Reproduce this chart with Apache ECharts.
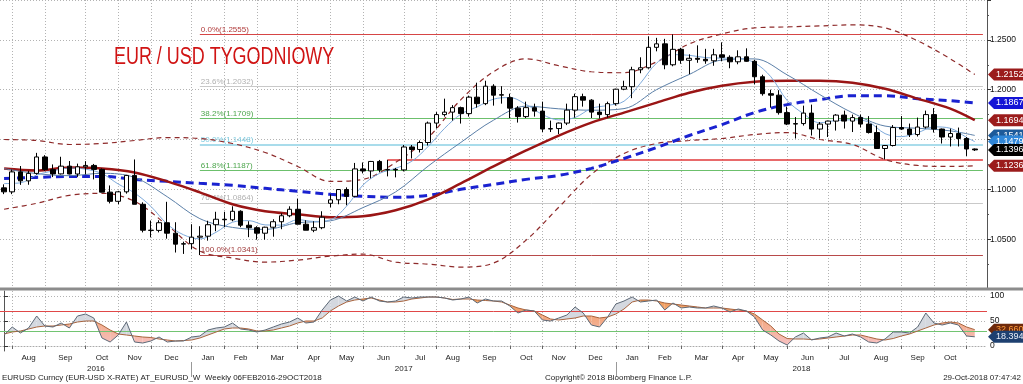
<!DOCTYPE html>
<html><head><meta charset="utf-8">
<script src="https://cdn.jsdelivr.net/npm/echarts@6/dist/echarts.min.js"></script>
<style>html,body{margin:0;padding:0;background:#fff}#c{width:1023px;height:384px}</style>
</head><body><div id="c"></div>
<script>
// ---------- DATA ----------
const weeks = [
'2016-07-22','2016-07-29','2016-08-05','2016-08-12','2016-08-19','2016-08-26','2016-09-02','2016-09-09','2016-09-16','2016-09-23','2016-09-30','2016-10-07','2016-10-14','2016-10-21','2016-10-28','2016-11-04','2016-11-11','2016-11-18','2016-11-25','2016-12-02','2016-12-09','2016-12-16','2016-12-23','2016-12-30',
'2017-01-06','2017-01-13','2017-01-20','2017-01-27','2017-02-03','2017-02-10','2017-02-17','2017-02-24','2017-03-03','2017-03-10','2017-03-17','2017-03-24','2017-03-31','2017-04-07','2017-04-14','2017-04-21','2017-04-28','2017-05-05','2017-05-12','2017-05-19','2017-05-26','2017-06-02','2017-06-09','2017-06-16','2017-06-23','2017-06-30','2017-07-07','2017-07-14','2017-07-21','2017-07-28','2017-08-04','2017-08-11','2017-08-18','2017-08-25','2017-09-01','2017-09-08','2017-09-15','2017-09-22','2017-09-29','2017-10-06','2017-10-13','2017-10-20','2017-10-27','2017-11-03','2017-11-10','2017-11-17','2017-11-24','2017-12-01','2017-12-08','2017-12-15','2017-12-22','2017-12-29',
'2018-01-05','2018-01-12','2018-01-19','2018-01-26','2018-02-02','2018-02-09','2018-02-16','2018-02-23','2018-03-02','2018-03-09','2018-03-16','2018-03-23','2018-03-30','2018-04-06','2018-04-13','2018-04-20','2018-04-27','2018-05-04','2018-05-11','2018-05-18','2018-05-25','2018-06-01','2018-06-08','2018-06-15','2018-06-22','2018-06-29','2018-07-06','2018-07-13','2018-07-20','2018-07-27','2018-08-03','2018-08-10','2018-08-17','2018-08-24','2018-08-31','2018-09-07','2018-09-14','2018-09-21','2018-09-28','2018-10-05','2018-10-12','2018-10-19','2018-10-26','2018-11-02','2018-11-09'];

const open = [1.1015,1.0975,1.1175,1.1085,1.1160,1.1325,1.1198,1.1155,1.1233,1.1154,
1.1226,1.1240,1.1200,1.0972,1.0880,1.0975,1.1140,1.0850,1.0590,1.0588,
1.0665,1.0560,1.0450,1.0455,1.0520,1.0530,1.0645,1.0700,1.0695,1.0780,
1.0640,1.0615,1.0560,1.0620,1.0675,1.0735,1.0800,1.0650,1.0590,1.0615,
1.0860,1.0895,1.0998,1.0930,1.1205,1.1185,1.1280,1.1195,1.1200,1.1195,
1.1425,1.1400,1.1470,1.1665,1.1750,1.1775,1.1820,1.1760,1.1925,1.1860,
1.2035,1.1945,1.1920,1.1815,1.1730,1.1820,1.1785,1.1605,1.1610,1.1665,
1.1795,1.1930,1.1895,1.1775,1.1750,1.1860,1.2005,1.2030,1.2200,1.2220,
1.2425,1.2460,1.2250,1.2405,1.2295,1.2315,1.2305,1.2290,1.2350,1.2325,
1.2280,1.2330,1.2285,1.2130,1.1960,1.1945,1.1770,1.1655,1.1660,1.1765,
1.1605,1.1655,1.1685,1.1745,1.1685,1.1720,1.1655,1.1570,1.1410,1.1440,
1.1620,1.1605,1.1550,1.1625,1.1750,1.1605,1.1525,1.1560,1.1510,1.1405];
const high = [1.1050,1.1198,1.1234,1.1186,1.1366,1.1343,1.1250,1.1327,1.1284,1.1258,
1.1283,1.1255,1.1210,1.1039,1.0985,1.1145,1.1300,1.0870,1.0687,1.0690,
1.0875,1.0670,1.0475,1.0650,1.0630,1.0685,1.0775,1.0775,1.0830,1.0790,
1.0680,1.0630,1.0625,1.0700,1.0760,1.0830,1.0905,1.0690,1.0680,1.0780,
1.0950,1.1000,1.1020,1.1265,1.1270,1.1285,1.1295,1.1296,1.1215,1.1445,
1.1445,1.1490,1.1680,1.1775,1.1910,1.1845,1.1830,1.1940,1.2070,1.2090,
1.2055,1.2035,1.1960,1.1835,1.1880,1.1860,1.1880,1.1690,1.1670,1.1860,
1.1960,1.1960,1.1905,1.1860,1.1880,1.2010,1.2090,1.2230,1.2325,1.2535,
1.2520,1.2510,1.2555,1.2420,1.2355,1.2445,1.2410,1.2410,1.2475,1.2345,
1.2395,1.2415,1.2300,1.2150,1.2000,1.1995,1.1830,1.1725,1.1840,1.1850,
1.1675,1.1690,1.1755,1.1790,1.1750,1.1750,1.1735,1.1640,1.1445,1.1645,
1.1735,1.1660,1.1720,1.1790,1.1815,1.1610,1.1610,1.1620,1.1525,1.1410];
const low = [1.0952,1.0952,1.1045,1.1046,1.1147,1.1186,1.1123,1.1149,1.1150,1.1125,
1.1150,1.1100,1.0970,1.0859,1.0851,1.0957,1.0850,1.0568,1.0518,1.0568,
1.0505,1.0366,1.0352,1.0400,1.0341,1.0485,1.0580,1.0620,1.0680,1.0620,
1.0520,1.0495,1.0495,1.0525,1.0600,1.0720,1.0650,1.0590,1.0570,1.0600,
1.0820,1.0850,1.0840,1.0920,1.1160,1.1110,1.1170,1.1130,1.1120,1.1180,
1.1310,1.1370,1.1440,1.1610,1.1730,1.1690,1.1660,1.1730,1.1820,1.1845,
1.1840,1.1860,1.1715,1.1670,1.1715,1.1730,1.1575,1.1575,1.1555,1.1645,
1.1720,1.1830,1.1715,1.1710,1.1720,1.1840,1.1995,1.1915,1.2165,1.2210,
1.2385,1.2205,1.2235,1.2260,1.2155,1.2270,1.2260,1.2240,1.2285,1.2215,
1.2255,1.2280,1.2055,1.1940,1.1820,1.1750,1.1645,1.1510,1.1640,1.1540,
1.1510,1.1525,1.1590,1.1610,1.1575,1.1620,1.1560,1.1405,1.1300,1.1430,
1.1595,1.1525,1.1530,1.1610,1.1570,1.1460,1.1430,1.1430,1.1335,1.1385];
const close = [1.0975,1.1175,1.1085,1.1160,1.1325,1.1198,1.1155,1.1233,1.1154,1.1226,
1.1240,1.1200,1.0972,1.0880,1.0975,1.1140,1.0850,1.0590,1.0588,1.0665,
1.0560,1.0450,1.0455,1.0520,1.0530,1.0645,1.0700,1.0695,1.0780,1.0640,
1.0615,1.0560,1.0620,1.0675,1.0735,1.0800,1.0650,1.0590,1.0615,1.0720,
1.0895,1.0998,1.0930,1.1205,1.1185,1.1280,1.1195,1.1200,1.1195,1.1425,
1.1400,1.1470,1.1665,1.1750,1.1775,1.1820,1.1760,1.1925,1.1860,1.2035,
1.1945,1.1950,1.1815,1.1730,1.1820,1.1785,1.1605,1.1610,1.1665,1.1795,
1.1930,1.1895,1.1775,1.1750,1.1860,1.2005,1.2030,1.2200,1.2220,1.2425,
1.2460,1.2250,1.2405,1.2295,1.2315,1.2305,1.2290,1.2350,1.2325,1.2280,
1.2330,1.2285,1.2130,1.1960,1.1945,1.1770,1.1655,1.1660,1.1765,1.1605,
1.1655,1.1685,1.1745,1.1685,1.1720,1.1655,1.1570,1.1410,1.1440,1.1620,
1.1605,1.1550,1.1625,1.1750,1.1605,1.1525,1.1560,1.1510,1.1405,1.1396];

// study lines at sample weeks
const studyWeeks = ['2016-07-22','2016-08-19','2016-09-16','2016-10-14','2016-11-11','2016-12-09','2017-01-06','2017-02-03','2017-03-03','2017-03-31','2017-04-28','2017-05-26','2017-06-23','2017-07-21','2017-08-18','2017-09-15','2017-10-13','2017-11-10','2017-12-08','2018-01-05','2018-02-02','2018-03-02','2018-03-30','2018-04-27','2018-05-25','2018-06-22','2018-07-20','2018-08-17','2018-09-14','2018-10-12','2018-11-02'];
const maRed   = [1.121,1.119,1.122,1.121,1.117,1.108,1.097,1.085,1.078,1.075,1.072,1.073,1.079,1.090,1.106,1.123,1.139,1.154,1.167,1.177,1.187,1.197,1.204,1.208,1.209,1.209,1.207,1.201,1.191,1.181,1.1694];
const maBlue  = [1.111,1.112,1.113,1.113,1.110,1.108,1.106,1.104,1.101,1.098,1.095,1.093,1.092,1.094,1.100,1.105,1.110,1.114,1.121,1.131,1.142,1.154,1.165,1.177,1.185,1.190,1.194,1.194,1.191,1.189,1.1867];
const bandUp  = [1.150,1.149,1.145,1.146,1.149,1.152,1.151,1.146,1.137,1.123,1.108,1.110,1.127,1.152,1.190,1.218,1.231,1.224,1.218,1.217,1.228,1.246,1.256,1.262,1.263,1.264,1.265,1.262,1.249,1.231,1.2152];
const bandLow = [1.080,1.086,1.094,1.096,1.088,1.064,1.038,1.031,1.027,1.029,1.033,1.035,1.027,1.025,1.022,1.026,1.049,1.082,1.115,1.136,1.146,1.149,1.151,1.155,1.157,1.150,1.145,1.130,1.124,1.123,1.1236];
const maSlow  = [1.1208,1.1158,1.1137,1.1161,1.1119,1.0926,1.0706,1.0618,1.0598,1.0665,1.0684,1.0817,1.0974,1.1234,1.1471,1.1694,1.1835,1.1808,1.1794,1.1810,1.2001,1.2153,1.2298,1.2309,1.2149,1.1951,1.1768,1.1635,1.1613,1.1587,1.1541];
const fastWeeks = ['2016-07-22','2016-08-05','2016-08-19','2016-09-02','2016-09-16','2016-09-30','2016-10-14','2016-10-28','2016-11-11','2016-11-25','2016-12-09','2016-12-23','2017-01-06','2017-01-20','2017-02-03','2017-02-17','2017-03-03','2017-03-17','2017-03-31','2017-04-14','2017-04-28','2017-05-12','2017-05-26','2017-06-09','2017-06-23','2017-07-07','2017-07-21','2017-08-04','2017-08-18','2017-09-01','2017-09-15','2017-09-29','2017-10-13','2017-10-27','2017-11-10','2017-11-24','2017-12-08','2017-12-22','2018-01-05','2018-01-19','2018-02-02','2018-02-16','2018-03-02','2018-03-16','2018-03-30','2018-04-13','2018-04-27','2018-05-11','2018-05-25','2018-06-08','2018-06-22','2018-07-06','2018-07-20','2018-08-03','2018-08-17','2018-08-31','2018-09-14','2018-09-28','2018-10-12','2018-10-26','2018-11-02'];
const maFast = [1.1058,1.1065,1.1144,1.1185,1.1213,1.1202,1.1158,1.1053,1.0963,1.0829,
1.0651,1.0544,1.0503,1.0570,1.0670,1.0686,1.0643,1.0641,1.0696,1.0678,
1.0694,1.0832,1.1043,1.1159,1.1211,1.1283,1.1431,1.1612,1.1754,1.1828,
1.1905,1.1921,1.1852,1.1751,1.1697,1.1721,1.1812,1.1842,1.1884,1.2063,
1.2267,1.2352,1.2345,1.2322,1.2317,1.2315,1.2270,1.2130,1.1892,1.1759,
1.1668,1.1691,1.1698,1.1675,1.1559,1.1529,1.1568,1.1627,1.1613,1.1521,1.1479];

// Fibonacci retracement levels and support line
const fibLevels = [0, 23.6, 38.2, 50, 61.8, 76.4, 100];
const fibPrices = [1.2555, 1.2032, 1.1709, 1.1448, 1.1187, 1.0864, 1.0341];
const fibStart = '2017-01-06';
const supportStart = '2017-06-16';
const supportPrice = 1.1296;

// lower panel oscillator
const oscK = [22,38,26,36,60,40,38,46,36,60, 64,56,16,8,22,48,8,6,10,18,
8,10,10,18,20,32,36,38,46,34, 32,28,32,38,44,48,56,46,48,72,
92,100,90,98,90,98,90,88,90,98, 96,98,98,98,96,92,94,98,86,94,
90,90,80,66,72,70,52,50,56,62, 78,66,42,38,58,84,90,98,88,90,
92,72,86,76,78,76,76,80,76,68, 74,70,58,32,22,10,2,18,26,12,
16,18,26,20,24,18,8,6,14,28, 28,26,38,66,46,42,46,42,20,18.3949];
const oscD = [24,28,30,34,38,40,40,42,44,48, 50,50,42,32,24,22,20,18,17,14,
12,10,11,12,16,22,28,34,36,36, 34,30,30,32,36,40,46,50,50,56,
70,80,88,92,94,96,92,88,88,90, 94,96,98,98,96,93,94,94,92,91,
90,88,82,76,72,70,62,54,52,54, 56,60,60,56,58,64,74,88,92,92,
90,86,84,82,80,78,76,76,76,74, 72,70,64,52,40,24,15,14,14,13,
14,16,18,20,22,22,18,14,12,15, 20,24,30,36,42,46,48,46,38,32.6608];
const oscLevels = [70, 30];

const monthNames = ['Jan','Feb','Mar','Apr','May','Jun','Jul','Aug','Sep','Oct','Nov','Dec'];
const titleText = 'EUR / USD TYGODNIOWY';
const footLeft = 'EURUSD Curncy (EUR-USD X-RATE) AT_EURUSD_W  Weekly 06FEB2016-29OCT2018';
const footMid = 'Copyright\u00a9 2018 Bloomberg Finance L.P.';
const footRight = '29-Oct-2018 07:47:42';

// ---------- DERIVED (axis helpers) ----------
const FONT = 'Liberation Sans, Arial, sans-serif';
const monthEnds = [];
const yearEnds = [];
for (let i = 0; i < weeks.length - 1; i++) {
  if (weeks[i].slice(0, 7) !== weeks[i + 1].slice(0, 7)) monthEnds.push(i);
  if (weeks[i].slice(0, 4) !== weeks[i + 1].slice(0, 4)) yearEnds.push(i);
}
const monthEndSet = new Set(monthEnds);
const monthCenters = [], monthLabel = {};
for (let k = 0; k < monthEnds.length - 1; k++) {
  const c = (monthEnds[k] + monthEnds[k + 1]) / 2;
  monthCenters.push(c);
  monthLabel[c] = monthNames[+weeks[monthEnds[k + 1]].slice(5, 7) - 1];
}
const yb = [-0.5, ...yearEnds, weeks.length - 0.5];
const yearCenters = [], yearLabel = {};
for (let k = 0; k < yb.length - 1; k++) {
  const c = (yb[k] + yb[k + 1]) / 2;
  yearCenters.push(c);
  yearLabel[c] = weeks[Math.min(Math.floor(yb[k + 1]), weeks.length - 1)].slice(0, 4);
}
const pts = (d, v) => d.map((x, k) => [x, v[k]]);
const last = a => a[a.length - 1];
const candles = open.map((o, i) => [o, close[i], low[i], high[i]]);

const mainTags = [
  {v: last(bandUp), bg: '#9b1c1c', fg: '#fff'},
  {v: last(maBlue), bg: '#1414d6', fg: '#fff'},
  {v: last(maRed), bg: '#9b1c1c', fg: '#fff'},
  {v: last(maSlow), bg: '#1d5a9a', fg: '#fff'},
  {v: last(maFast), bg: '#2f86d8', fg: '#fff'},
  {v: last(close), bg: '#000', fg: '#fff'},
  {v: last(bandLow), bg: '#9b1c1c', fg: '#fff'}
];
const lowTags = [
  {v: last(oscD), bg: '#6e2a0c', fg: '#ff9c3c'},
  {v: last(oscK), bg: '#1e4070', fg: '#e8eef8'}
];
function tagRenderer(tags, digits) {
  return function (params, api) {
    const t = tags[params.dataIndex];
    const y = api.coord([0, api.value(1)])[1];
    const x0 = params.coordSys.x + params.coordSys.width + 1;
    return {type: 'group', children: [
      {type: 'polygon', shape: {points: [[x0, y], [x0 + 6, y - 6], [x0 + 37, y - 6], [x0 + 37, y + 6], [x0 + 6, y + 6]]}, style: {fill: t.bg}},
      {type: 'text', x: x0 + 8, y: y, style: {text: t.v.toFixed(digits), fill: t.fg, font: '9px Liberation Sans', verticalAlign: 'middle', align: 'left'}}
    ]};
  };
}

const fibColors = ['#d64545', '#c9c9c9', '#6cc06c', '#a9dceb', '#6cc06c', '#c9c9c9', '#b84a4a'];
const fibText = ['#b03a3a', '#b0b0b0', '#4da64d', '#7fcbe0', '#4da64d', '#b0b0b0', '#a03a3a'];
const fibLines = fibLevels.map((lv, k) => [
  {coord: [fibStart, fibPrices[k]], name: lv.toFixed(1) + '%(' + fibPrices[k].toFixed(4) + ')',
   lineStyle: {color: fibColors[k], width: k === 3 ? 2 : 1, type: 'solid'},
   label: {color: fibText[k]}},
  {coord: [last(weeks), fibPrices[k]]}
]);
fibLines.push([
  {coord: [supportStart, supportPrice], lineStyle: {color: '#e0393a', width: 1.5, type: 'solid'}, label: {show: false}},
  {coord: [last(weeks), supportPrice]}
]);

const dotted = {color: '#b3b3b3', type: [1, 2], width: 1};

const option = {
  animation: false,
  backgroundColor: '#fff',
  textStyle: {fontFamily: FONT},
  title: [
    {text: footLeft, left: 2, top: 374, padding: 0, textStyle: {color: '#222', fontSize: 8, fontWeight: 'normal', fontFamily: FONT}},
    {text: footMid, left: 545, top: 374, padding: 0, textStyle: {color: '#222', fontSize: 8, fontWeight: 'normal', fontFamily: FONT}},
    {text: footRight, right: 2, top: 374, padding: 0, textStyle: {color: '#222', fontSize: 8, fontWeight: 'normal', fontFamily: FONT}}
  ],
  graphic: [
    {type: 'rect', shape: {x: 0, y: 287.5, width: 1023, height: 3}, style: {fill: '#8c8c8c'}, z: 50},
    {type: 'text', x: 114, y: 46, scaleX: 0.78, z: 60,
     style: {text: titleText, fill: '#d01414', font: '23px Liberation Sans', verticalAlign: 'top', align: 'left'}}
  ],
  grid: [
    {left: -4, right: 36, top: -1, height: 290},
    {left: -4, right: 36, top: 291, height: 60}
  ],
  xAxis: [
    {type: 'category', gridIndex: 0, data: weeks, boundaryGap: true,
     axisLine: {show: false}, axisTick: {show: false}, axisLabel: {show: false},
     splitLine: {show: true, interval: (i) => monthEndSet.has(i), alignWithLabel: true, lineStyle: dotted}},
    {type: 'category', gridIndex: 1, data: weeks, boundaryGap: true, position: 'bottom',
     axisLine: {show: true, lineStyle: {color: '#aaa', type: [1, 2]}},
     axisTick: {show: true, interval: (i) => monthEndSet.has(i), alignWithLabel: true, length: 3, lineStyle: {color: '#666'}},
     axisLabel: {show: false},
     splitLine: {show: true, interval: (i) => monthEndSet.has(i), alignWithLabel: true, lineStyle: dotted}},
    {type: 'value', gridIndex: 1, position: 'bottom', min: -0.5, max: weeks.length - 0.5,
     axisLine: {show: false}, axisTick: {show: false}, splitLine: {show: false},
     axisLabel: {customValues: monthCenters, formatter: v => monthLabel[v] || '', fontSize: 8, color: '#222', margin: 3, fontFamily: FONT}},
    {type: 'value', gridIndex: 1, position: 'bottom', offset: 11, min: -0.5, max: weeks.length - 0.5,
     axisLine: {show: false}, splitLine: {show: false},
     axisTick: {show: true, customValues: yearEnds, length: 15, lineStyle: {color: '#999'}},
     axisLabel: {customValues: yearCenters, formatter: v => yearLabel[v] || '', fontSize: 8, color: '#222', margin: 3, fontFamily: FONT}}
  ],
  yAxis: [
    {type: 'value', gridIndex: 0, position: 'right', min: 1.0, max: 1.29, interval: 0.05,
     axisLine: {show: true, lineStyle: {color: '#555'}},
     axisTick: {show: true, length: 4, lineStyle: {color: '#333'}},
     minorTick: {show: true, splitNumber: 2, length: 2, lineStyle: {color: '#555'}},
     axisLabel: {formatter: v => v.toFixed(4), fontSize: 8.5, color: '#111', margin: 3, showMinLabel: false, showMaxLabel: false, fontFamily: FONT},
     splitLine: {show: true, lineStyle: dotted}},
    {type: 'value', gridIndex: 1, position: 'right', min: -10, max: 110,
     axisLine: {show: true, lineStyle: {color: '#555'}},
     axisTick: {show: true, customValues: [0, 50, 100], length: 4, lineStyle: {color: '#333'}},
     axisLabel: {customValues: [0, 50, 100], fontSize: 8.5, color: '#111', margin: 3, fontFamily: FONT},
     splitLine: {show: true, lineStyle: dotted}}
  ],
  series: [
    {type: 'line', name: 'bandUp', data: pts(studyWeeks, bandUp), smooth: 0.35, symbol: 'none', z: 2,
     lineStyle: {color: '#8e2a2a', width: 1.2, type: [5, 4]}},
    {type: 'line', name: 'bandLow', data: pts(studyWeeks, bandLow), smooth: 0.35, symbol: 'none', z: 2,
     lineStyle: {color: '#8e2a2a', width: 1.2, type: [5, 4]}},
    {type: 'line', name: 'maBlue', data: pts(studyWeeks, maBlue), smooth: 0.35, symbol: 'none', z: 3,
     lineStyle: {color: '#1a22d0', width: 3, type: [8, 5]}},
    {type: 'line', name: 'maRed', data: pts(studyWeeks, maRed), smooth: 0.35, symbol: 'none', z: 3,
     lineStyle: {color: '#9a1515', width: 2.5}},
    {type: 'line', name: 'maSlow', data: pts(studyWeeks, maSlow), smooth: 0.35, symbol: 'none', z: 3,
     lineStyle: {color: '#5b7fa8', width: 1}},
    {type: 'line', name: 'maFast', data: pts(fastWeeks, maFast), smooth: 0.35, symbol: 'none', z: 3,
     lineStyle: {color: '#7eaadb', width: 1}},
    {type: 'candlestick', name: 'EURUSD', data: candles, barWidth: '62%', z: 5,
     itemStyle: {color: '#ffffff', color0: '#000000', borderColor: '#000000', borderColor0: '#000000', borderWidth: 1},
     markLine: {silent: true, symbol: 'none', z: 1, data: fibLines,
       label: {show: true, position: 'insideStartTop', formatter: '{b}', fontSize: 8, distance: 1, fontFamily: FONT}}},
    {type: 'custom', name: 'mainTags', xAxisIndex: 0, yAxisIndex: 0, clip: false, z: 30, silent: true,
     encode: {x: 0, y: 1}, data: mainTags.map(t => [0, t.v]), renderItem: tagRenderer(mainTags, 4)},

    {type: 'custom', name: 'oscFill', xAxisIndex: 1, yAxisIndex: 1, z: 1, silent: true,
     encode: {x: 0, y: 1},
     data: oscK.slice(0, -1).map((k, i) => [i, k, oscD[i], oscK[i + 1], oscD[i + 1]]),
     renderItem: function (params, api) {
       const i = api.value(0), k0 = api.value(1), d0 = api.value(2), k1 = api.value(3), d1 = api.value(4);
       const a = api.coord([i, k0]), b = api.coord([i + 1, k1]), c = api.coord([i + 1, d1]), d = api.coord([i, d0]);
       const top = api.coord([0, 100])[1], bot = api.coord([0, 0])[1];
       const warm = {type: 'linear', x: 0, y: top, x2: 0, y2: bot, global: true,
         colorStops: [{offset: 0, color: '#f09a50'}, {offset: 0.5, color: '#f3aa86'}, {offset: 1, color: '#f7c2c4'}]};
       const cool = '#d4d8df';
       const col = s => (s >= 0 ? cool : warm);
       const s0 = k0 - d0, s1 = k1 - d1;
       if (s0 * s1 >= 0) return {type: 'polygon', shape: {points: [a, b, c, d]}, style: {fill: col(s0 + s1)}};
       const t = s0 / (s0 - s1);
       const p = [a[0] + (b[0] - a[0]) * t, a[1] + (b[1] - a[1]) * t];
       return {type: 'group', children: [
         {type: 'polygon', shape: {points: [a, p, d]}, style: {fill: col(s0)}},
         {type: 'polygon', shape: {points: [p, b, c]}, style: {fill: col(s1)}}
       ]};
     }},
    {type: 'line', name: 'oscD', xAxisIndex: 1, yAxisIndex: 1, data: oscD, symbol: 'none', z: 3,
     lineStyle: {color: '#a8643e', width: 1}},
    {type: 'line', name: 'oscK', xAxisIndex: 1, yAxisIndex: 1, data: oscK, symbol: 'none', z: 4,
     lineStyle: {color: '#5d6977', width: 1},
     markLine: {silent: true, symbol: 'none', label: {show: false}, z: 2,
       data: oscLevels.map((v, k) => ({yAxis: v, lineStyle: {color: k === 0 ? '#e04848' : '#72c472', width: 1, type: 'solid'}}))}},
    {type: 'custom', name: 'lowTags', xAxisIndex: 1, yAxisIndex: 1, clip: false, z: 30, silent: true,
     encode: {x: 0, y: 1}, data: lowTags.map(t => [0, t.v]), renderItem: tagRenderer(lowTags, 4)}
  ]
};
const chart = echarts.init(document.getElementById('c'), null, {renderer: 'canvas'});
chart.setOption(option);
</script>
</body></html>
